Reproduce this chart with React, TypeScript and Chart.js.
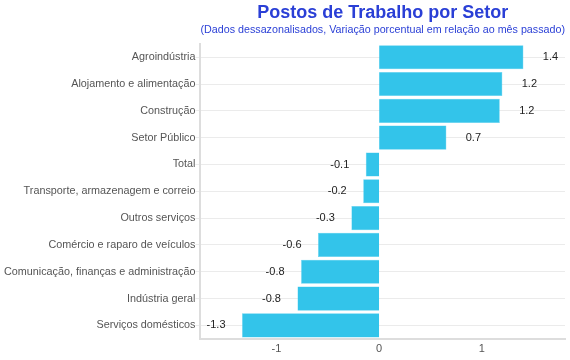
import React, { useEffect, useRef } from "react";
import { Chart, registerables } from "chart.js";

Chart.register(...registerables);

const categories = [
  "Agroindústria",
  "Alojamento e alimentação",
  "Construção",
  "Setor Público",
  "Total",
  "Transporte, armazenagem e correio",
  "Outros serviços",
  "Comércio e raparo de veículos",
  "Comunicação, finanças e administração",
  "Indústria geral",
  "Serviços domésticos",
];

const values = [1.405, 1.2, 1.175, 0.655, -0.13, -0.155, -0.27, -0.595, -0.76, -0.795, -1.335];

const xTicks = [-1, 0, 1];

const titleText = "Postos de Trabalho por Setor";
const subtitleText = "(Dados dessazonalisados, Variação porcentual em relação ao mês passado)";

const FONT = "'Liberation Sans', Arial, Helvetica, sans-serif";

const valueLabels = {
  id: "valueLabels",
  afterDatasetsDraw(chart: any) {
    const ctx = chart.ctx;
    const meta = chart.getDatasetMeta(0);
    const data = chart.data.datasets[0].data as number[];
    ctx.save();
    ctx.font = `11px ${FONT}`;
    ctx.fillStyle = "#222222";
    ctx.textAlign = "center";
    ctx.textBaseline = "middle";
    meta.data.forEach((bar: any, i: number) => {
      const v = data[i];
      const x = bar.x + (v >= 0 ? 27 : -26);
      ctx.fillText(v.toFixed(1), x, bar.y);
    });
    ctx.restore();
  },
};

export default function App() {
  const ref = useRef<HTMLCanvasElement | null>(null);

  useEffect(() => {
    if (!ref.current) return;
    const chart = new Chart(ref.current, {
      type: "bar",
      data: {
        labels: categories,
        datasets: [
          {
            data: values,
            backgroundColor: "#33c4ea",
            borderColor: "#5ccff0",
            borderWidth: 0.5,
            barPercentage: 0.9,
            categoryPercentage: 1,
          },
        ],
      },
      options: {
        indexAxis: "y",
        animation: false,
        responsive: false,
        maintainAspectRatio: false,
        layout: { padding: { left: 4, right: 5, top: 0, bottom: 0 } },
        plugins: {
          legend: { display: false },
          tooltip: { enabled: false },
          title: {
            display: true,
            text: titleText,
            fullSize: false,
            color: "#2a3fd6",
            font: { family: FONT, size: 18, weight: "bold" },
            padding: { top: 2, bottom: 0 },
          },
          subtitle: {
            display: true,
            text: subtitleText,
            fullSize: false,
            color: "#2a3fd6",
            font: { family: FONT, size: 11 },
            padding: { top: 0, bottom: 7 },
          },
        },
        scales: {
          x: {
            type: "linear",
            min: -1.74,
            max: 1.81,
            afterBuildTicks: (scale: any) => {
              scale.ticks = xTicks.map((v) => ({ value: v }));
            },
            grid: { display: false, drawTicks: false },
            border: { display: true, color: "#dddddd", width: 2 },
            ticks: {
              color: "#555555",
              font: { family: FONT, size: 11 },
              padding: 4,
            },
          },
          y: {
            type: "category",
            grid: {
              offset: false,
              color: "#ebebeb",
              drawTicks: true,
              tickLength: 5,
            },
            border: { display: true, color: "#dddddd", width: 2 },
            ticks: {
              color: "#555555",
              font: { family: FONT, size: 10.8 },
              padding: 0,
            },
          },
        },
      },
      plugins: [valueLabels],
    } as any);
    return () => chart.destroy();
  }, []);

  return (
    <div style={{ position: "fixed", left: 0, top: 0, width: 570, height: 360, background: "#fff" }}>
      <canvas ref={ref} width={570} height={360} style={{ display: "block" }} />
    </div>
  );
}
